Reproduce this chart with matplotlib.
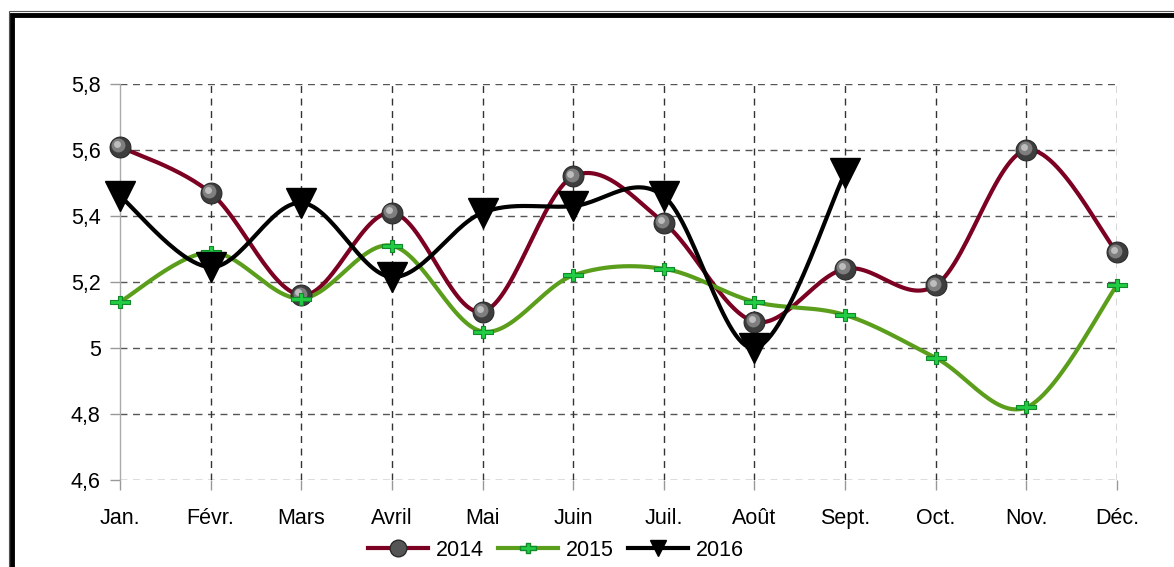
import numpy as np
import matplotlib
matplotlib.use("Agg")
import matplotlib.pyplot as plt
from matplotlib.patches import Rectangle
from matplotlib.lines import Line2D
from matplotlib.path import Path
import matplotlib.transforms as mtrans

months = ["Jan.", "Févr.", "Mars", "Avril", "Mai", "Juin", "Juil.", "Août",
          "Sept.", "Oct.", "Nov.", "Déc."]
s2014 = [5.61, 5.47, 5.16, 5.41, 5.11, 5.52, 5.38, 5.08, 5.24, 5.19, 5.60, 5.29]
s2015 = [5.14, 5.29, 5.15, 5.31, 5.05, 5.22, 5.24, 5.14, 5.10, 4.97, 4.82, 5.19]
s2016 = [5.46, 5.245, 5.44, 5.215, 5.41, 5.43, 5.46, 5.00, 5.53]
yticks = [4.6, 4.8, 5.0, 5.2, 5.4, 5.6, 5.8]
ytick_labels = ["4,6", "4,8", "5", "5,2", "5,4", "5,6", "5,8"]

plt.rcParams['font.family'] = ['Liberation Sans', 'DejaVu Sans']

W, H = 1174, 567
fig = plt.figure(figsize=(W / 100, H / 100), dpi=100)
ax = fig.add_axes([120 / W, 1 - 480 / H, (1117 - 120) / W, (480 - 84) / H])


def smooth(xs, ys, n=30):
    """Bezier smoothing through points (Excel-like)."""
    xs = np.asarray(xs, float)
    ys = np.asarray(ys, float)
    px, py = [], []
    m = len(xs)
    for i in range(m - 1):
        p0 = (xs[max(i - 1, 0)], ys[max(i - 1, 0)])
        p1 = (xs[i], ys[i])
        p2 = (xs[i + 1], ys[i + 1])
        p3 = (xs[min(i + 2, m - 1)], ys[min(i + 2, m - 1)])
        c1 = (p1[0] + (p2[0] - p0[0]) / 6, p1[1] + (p2[1] - p0[1]) / 6)
        c2 = (p2[0] - (p3[0] - p1[0]) / 6, p2[1] - (p3[1] - p1[1]) / 6)
        t = np.linspace(0, 1, n)
        bx = ((1 - t) ** 3 * p1[0] + 3 * (1 - t) ** 2 * t * c1[0]
              + 3 * (1 - t) * t ** 2 * c2[0] + t ** 3 * p2[0])
        by = ((1 - t) ** 3 * p1[1] + 3 * (1 - t) ** 2 * t * c1[1]
              + 3 * (1 - t) * t ** 2 * c2[1] + t ** 3 * p2[1])
        px.extend(bx)
        py.extend(by)
    return np.array(px), np.array(py)


# wide plus marker
a, b, t = 1.0, 0.62, 0.22
plus_verts = [(-a, -t), (-t, -t), (-t, -b), (t, -b), (t, -t), (a, -t), (a, t),
              (t, t), (t, b), (-t, b), (-t, t), (-a, t), (-a, -t)]
plus_marker = Path(plus_verts, closed=True)

x_all = np.arange(len(months))
c14, c15, c16 = "#7b0022", "#5a9e1c", "#000000"
lw = 3.0

# grid
for yv in yticks:
    ax.axhline(yv, color="#555555", lw=1.0, ls=(0, (5, 4)), zorder=1)
for xv in x_all[1:]:
    ax.axvline(xv, color="#333333", lw=1.0, ls=(0, (5, 4)), zorder=1)

# lines
for data, col, z in [(s2014, c14, 3), (s2015, c15, 4), (s2016, c16, 5)]:
    xs = x_all[:len(data)]
    sx, sy = smooth(xs, data)
    ax.plot(sx, sy, color=col, lw=lw, zorder=z, solid_capstyle="round", clip_on=False)

# markers 2014 (spheres)
x14 = x_all[:len(s2014)]
ax.plot(x14, s2014, 'o', ms=15, mfc="#3e3e3e", mec="#2a2a2a", mew=0.8, zorder=6, clip_on=False)
ax.plot(x14, s2014, 'o', ms=10, mfc="#7e7e7e", mec="none", zorder=6, clip_on=False,
        transform=mtrans.offset_copy(ax.transData, fig=fig, x=-1.2, y=1.2, units='points'))
ax.plot(x14, s2014, 'o', ms=5, mfc="#bdbdbd", mec="none", zorder=6, clip_on=False,
        transform=mtrans.offset_copy(ax.transData, fig=fig, x=-2.0, y=2.0, units='points'))

# markers 2015 (green plus)
x15 = x_all[:len(s2015)]
ax.plot(x15, s2015, ls='none', marker=plus_marker, ms=15, mfc="#22cc44", mec="#128a2a",
        mew=0.8, zorder=7, clip_on=False)

# markers 2016 (triangles)
x16 = x_all[:len(s2016)]
ax.plot(x16, s2016, 'v', ms=22, mfc="black", mec="black", zorder=8, clip_on=False)

ax.set_xlim(0, 11)
ax.set_ylim(4.6, 5.8)
ax.set_xticks(x_all)
ax.set_xticklabels(months)
ax.set_yticks(yticks)
ax.set_yticklabels(ytick_labels)
ax.tick_params(axis='both', labelsize=15.5, color="#999999", length=7, width=1.0,
               direction='out')
ax.tick_params(axis='x', pad=13)
ax.tick_params(axis='y', pad=7)
for side in ["top", "right", "bottom"]:
    ax.spines[side].set_visible(False)
ax.spines["left"].set_color("#aaaaaa")
ax.spines["left"].set_linewidth(1.0)

# legend
h14 = Line2D([], [], color=c14, lw=lw, marker='o', ms=12, mfc="#555555", mec="#2a2a2a")
h15 = Line2D([], [], color=c15, lw=lw, marker=plus_marker, ms=12, mfc="#22cc44", mec="#128a2a")
h16 = Line2D([], [], color=c16, lw=lw, marker='v', ms=11, mfc="black", mec="black")
fig.legend([h14, h15, h16], ["2014", "2015", "2016"],
           loc="center", bbox_to_anchor=(556 / W, 1 - 550 / H), ncol=3,
           frameon=False, fontsize=15.5, handlelength=2.8, handletextpad=0.37,
           columnspacing=0.65)

# frame
fig.patches.append(Rectangle((12 / W, -0.2), 1.2, 1 - 15 / H + 0.2,
                             transform=fig.transFigure, fill=False,
                             edgecolor="black", lw=3.5, zorder=0))
fig.patches.append(Rectangle((9 / W, -0.2), 1.2, 1 - 11 / H + 0.2,
                             transform=fig.transFigure, fill=False,
                             edgecolor="#555555", lw=0.8, zorder=0))

fig.savefig("out.png", dpi=100)
